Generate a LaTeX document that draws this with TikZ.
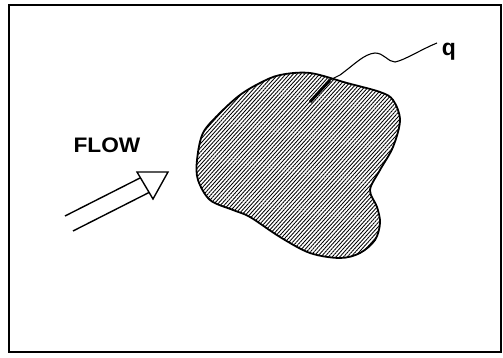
\documentclass[tikz,border=0pt]{standalone}
\usepackage{fontspec}
\setmainfont{Liberation Sans}
\usetikzlibrary{patterns.meta}

\begin{document}
\begin{tikzpicture}[x=1pt,y=-1pt,
  frame/.style={draw,line width=1.2pt},
  body/.style={draw,line width=1.8pt,pattern={Lines[angle=48,distance=2.8pt,line width=0.85pt]}},
  stem/.style={line width=1.4pt},
  label/.style={font=\bfseries\fontsize{21}{21}\selectfont,inner sep=0pt}]
\useasboundingbox (0,0) rectangle (503,358);
\draw[frame] (9,5) rectangle (501,352);

% the body
\draw[body] plot[smooth cycle,tension=0.55] coordinates {
  (197,160) (203,133) (220,113) (240,95) (260,83) (280,75) (310,73)
  (347,83) (380,92) (393,100) (400,120) (393,147) (380,170) (370,190)
  (377,207) (380,223) (375,240) (360,253) (340,258) (310,253) (280,237)
  (250,217) (233,210) (210,200) (198,180)};

% flow arrow
\coordinate (tailA) at (65,216);
\coordinate (headA) at (140,178);
\coordinate (tailB) at (73,231);
\coordinate (headB) at (150,192);
\coordinate (tipL) at (137,172);
\coordinate (tipR) at (168,172);
\coordinate (tipB) at (153,199);
\draw[stem] (tailA) -- (headA);
\draw[stem] (tailB) -- (headB);
\draw[stem,fill=white,line join=miter] (tipL) -- (tipR) -- (tipB) -- cycle;
\node[label,xscale=1.08] (flow) at (107,145) {FLOW};

% heat flux label
\node[label,font=\bfseries\fontsize{23}{23}\selectfont] (q) at (449,52) {q};
\coordinate (qin) at (310,102);
\coordinate (qsurf) at (330,80);
\draw[line width=3pt] (qin) -- (qsurf);
\draw[line width=1.1pt] (qsurf) -- (340,75) .. controls (355,64) and (364,54) .. (375,53)
  .. controls (384,53) and (388,62) .. (395,62) .. controls (405,60) and (420,50) .. (437,43);
\end{tikzpicture}
\end{document}
